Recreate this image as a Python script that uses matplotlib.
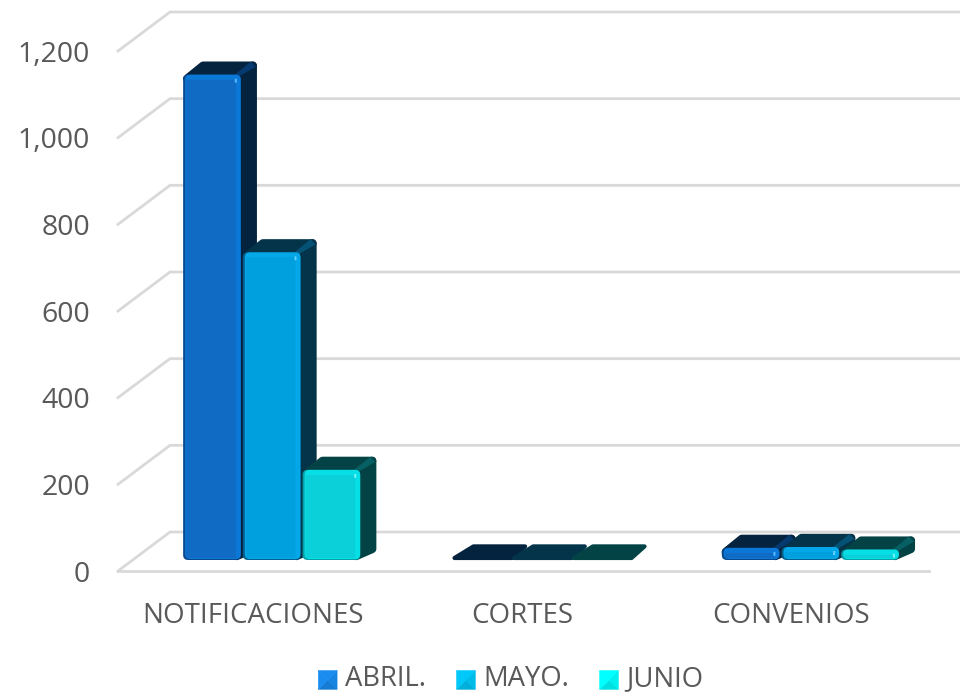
import matplotlib
matplotlib.use("Agg")
import matplotlib.pyplot as plt
import numpy as np
from matplotlib.legend_handler import HandlerBase
from matplotlib.patches import FancyBboxPatch, Patch, Polygon
from matplotlib.transforms import Affine2D, IdentityTransform

plt.rcParams["font.family"] = ["Open Sans", "DejaVu Sans"]

categories = ["NOTIFICACIONES", "CORTES", "CONVENIOS"]
series_names = ["ABRIL.", "MAYO.", "JUNIO"]
abril = [1120, 6, 28]
mayo = [710, 6, 30]
junio = [208, 6, 24]
y_ticks = [0, 200, 400, 600, 800, 1000, 1200]

front_colors = ["#0f6bc4", "#009fdd", "#0bd0d9"]
bevel_colors = ["#0b78d8", "#04a8e8", "#06dfe6"]
edge_colors = ["#0a4a8c", "#04608c", "#08a0a8"]
dark_colors = ["#04233f", "#03344a", "#044345"]
corner_colors = ["#063a6e", "#045377", "#066064"]
spot_colors = ["#58b8ff", "#60d4ff", "#70f4f8"]
legend_colors = ["#1a8cf0", "#00c8f8", "#00ffff"]
grid_color = "#d9d9d9"
text_color = "#595959"

W, H = 960, 692
fig = plt.figure(figsize=(W / 100, H / 100), dpi=100)
ax = fig.add_axes([118 / W, (H - 571) / H, (926 - 118) / W, (571 - 51) / H])
ax.set_xlim(-0.5, 2.5)
ax.set_ylim(0, 1200)
ax.patch.set_visible(False)
for s in ax.spines.values():
    s.set_visible(False)

ax.set_xticks(range(len(categories)))
ax.set_xticklabels(categories, fontsize=20, color=text_color)
ax.set_yticks(y_ticks)
ax.set_yticklabels([f"{v:,}" for v in y_ticks], fontsize=20.5, color=text_color)
ax.tick_params(axis="x", length=0, pad=22)
ax.tick_params(axis="y", length=0, pad=20)

px = IdentityTransform()
wall_shift = Affine2D().translate(52, 39)
bar_trans = ax.transData + Affine2D().translate(19, 11)

# back wall grid with the diagonal on the left side wall
for v in y_ticks:
    fx, fy = ax.transData.transform((-0.5, v))
    bx, by = wall_shift.transform((fx, fy))
    ax.plot([fx, bx, W + 5], [fy, by, by], transform=px, color=grid_color,
            lw=2, clip_on=False, solid_joinstyle="miter", zorder=1)
# floor front edge
fx, fy = ax.transData.transform((-0.5, 0))
rx, _ = ax.transData.transform((2.5, 0))
ax.plot([fx, rx + 3], [fy, fy], transform=px, color=grid_color, lw=2, clip_on=False, zorder=1)


def rbox(x0, y0, x1, y1, r, color):
    r = min(r, (y1 - y0) / 2 - 0.1)
    ax.add_patch(FancyBboxPatch((x0 + r, y0 + r), x1 - x0 - 2 * r, y1 - y0 - 2 * r,
                                boxstyle=f"round,pad={r},rounding_size={r}", transform=px,
                                fc=color, ec="none", clip_on=False, zorder=3))


def rpoly(points, color, lw=6):
    # thick round joins give the soft corners of the extruded faces
    ax.add_patch(Polygon(points, transform=px, fc=color, ec=color, lw=lw,
                         joinstyle="round", clip_on=False, zorder=3))


def draw_bar(xc, value, idx, width=0.214, dx=16, dy=13):
    x0, y0 = bar_trans.transform((xc - width / 2, 0))
    x1, y1 = bar_trans.transform((xc + width / 2, value))
    dark = dark_colors[idx]

    # almost no height: only the top face can be seen
    if value < 10:
        rpoly([(x0 + 2, y0 + 2), (x0 + dx + 5, y1 + 11), (x1 + dx - 1, y1 + 11),
               (x1 + 2, y0 + 2)], dark, lw=3)
        return

    m = 4  # half of the stroke, in pixels
    rpoly([(x1 - m, y0 + m), (x1 + dx - m, y0 + dy - m + 2), (x1 + dx - m, y1 + dy - m),
           (x1 - m, y1 - m)], dark)
    rpoly([(x0 + m, y1 - m), (x0 + dx + m, y1 + dy - m), (x1 + dx - m, y1 + dy - m),
           (x1 - m, y1 - m)], dark)

    # lighter band where the side meets the top corner
    ax.add_patch(Polygon([(x1 - 2, y1 - 2), (x1 + dx - 1, y1 + dy - 5), (x1 + dx - 6, y1 + dy),
                          (x1 - 6, y1)], transform=px, fc=corner_colors[idx],
                         ec="none", clip_on=False, zorder=3))

    # front face, built up from a few layers for the bevel
    rbox(x0, y0, x1, y1, 5, edge_colors[idx])
    rbox(x0 + 2, y0 + 1, x1, y1, 5, bevel_colors[idx])
    rbox(x0 + 3, y0 + 2, x1 - 5, y1 - 5, 1, front_colors[idx])
    rbox(x1 - 6, y1 - 8, x1 - 4, y1 - 4, 0.5, spot_colors[idx])


all_series = [abril, mayo, junio]
pitch = 0.2217
for c in range(len(categories)):
    for i, vals in enumerate(all_series):
        draw_bar(c + (i - 1) * pitch, vals[c], i)


class PyramidHandler(HandlerBase):
    # legend swatch: a square split in four shaded triangles
    def create_artists(self, legend, orig, xd, yd, w, h, fs, trans):
        s = w
        x0, y0 = -xd, -yd - 2
        col = np.array(matplotlib.colors.to_rgb(orig.get_facecolor()))
        cx, cy = x0 + s / 2, y0 + s / 2
        c = [(x0, y0), (x0 + s, y0), (x0 + s, y0 + s), (x0, y0 + s)]
        shades = [0.88, 0.94, 1.0, 1.0]
        out = []
        for k in range(4):
            shade = col * shades[k]
            out.append(Polygon([c[k], c[(k + 1) % 4], (cx, cy)], fc=shade, ec=shade, lw=0.4,
                               transform=trans))
        return out


handles = [Patch(facecolor=c, label=n) for c, n in zip(legend_colors, series_names)]
fig.legend(handles=handles, loc="center", bbox_to_anchor=(511 / W, (H - 679.5) / H), ncol=3,
           frameon=False, fontsize=19.8, labelcolor=text_color, handlelength=0.68,
           handletextpad=0.3, columnspacing=1.1, borderaxespad=0, borderpad=0,
           handler_map={Patch: PyramidHandler()})

fig.savefig("out.png", dpi=100, facecolor="white")
